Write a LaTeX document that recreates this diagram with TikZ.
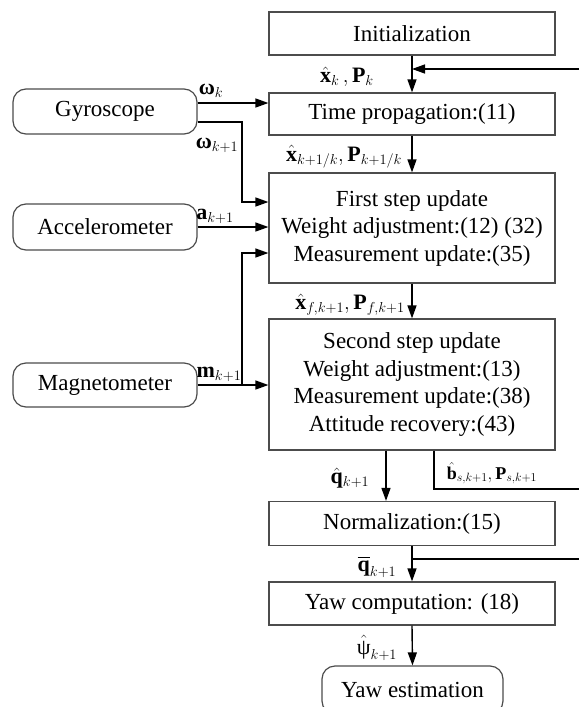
\documentclass[tikz,border=0pt]{standalone}
\usepackage{fontspec}
\setmainfont{Liberation Serif}
\usepackage{amsmath,bm}
\usetikzlibrary{arrows.meta}
\begin{document}
\begin{tikzpicture}[x=1pt,y=-1pt,
  box/.style={draw=black!70,line width=1.2pt,minimum width=286pt,inner sep=0pt,align=center,font=\fontsize{23}{27.5}\selectfont},
  sensor/.style={box,rounded corners=13pt,minimum width=184pt},
  arr/.style={line width=1.4pt,-{Triangle[length=13pt,width=9pt]}},
  conn/.style={line width=1.4pt},
  lab/.style={inner sep=0pt,font=\fontsize{22}{25}\selectfont}]
\useasboundingbox (0,0) rectangle (579,707);
\fill[white] (0,0) rectangle (579,707);
\clip (0,0) rectangle (579,707);
% main boxes
\node[box,minimum height=43pt] (init) at (412,33.5) {Initialization};
\node[box,minimum height=42pt] (tp) at (412,114) {Time propagation:(11)};
\node[box,minimum height=110pt] (fs) at (412,228) {First step update\\Weight adjustment:(12) (32)\\Measurement update:(35)};
\node[box,minimum height=131pt] (ss) at (412,384.5) {Second step update\\Weight adjustment:(13)\\Measurement update:(38)\\Attitude recovery:(43)};
\node[box,minimum height=44pt] (norm) at (412,523.5) {Normalization:(15)};
\node[box,minimum height=43pt] (yaw) at (412,603.5) {Yaw computation: (18)};
\node[sensor,minimum width=181pt,minimum height=48pt] (est) at (412.5,690) {Yaw estimation};
% sensors
\node[sensor,minimum height=45pt] (gyro) at (105,111.5) {Gyroscope};
\node[sensor,minimum height=46pt] (acc) at (105,227) {Accelerometer};
\node[sensor,minimum height=44pt] (mag) at (105,385) {Magnetometer};
% labels
\node[lab] (lxk) at (347,77) {$\hat{\mathbf{x}}_k\,,\mathbf{P}_k$};
\node[lab] (lwk) at (211,91) {$\text{\bfseries ω}_k$};
\node[lab] (lwk1) at (217,145) {$\text{\bfseries ω}_{k+1}$};
\node[lab] (lak) at (215,216) {$\mathbf{a}_{k+1}$};
\node[lab] (lmk) at (219,374) {$\mathbf{m}_{k+1}$};
\node[lab] (lxp) at (344,157) {$\hat{\mathbf{x}}_{k+1/k},\mathbf{P}_{k+1/k}$};
\node[lab] (lxf) at (350,305) {$\hat{\mathbf{x}}_{f,k+1},\mathbf{P}_{f,k+1}$};
\node[lab] (lq) at (350,478) {$\hat{\mathbf{q}}_{k+1}$};
\node[lab,font=\fontsize{18}{22}\selectfont] (lb) at (492,473) {$\hat{\mathbf{b}}_{s,k+1},\mathbf{P}_{s,k+1}$};
\node[lab] (lqb) at (377,567) {$\overline{\mathbf{q}}_{k+1}$};
\node[lab] (lpsi) at (377,648) {$\hat{\text{ψ}}_{k+1}$};
% coordinates
\coordinate (fbin) at (579,69);
\coordinate (j1) at (242,202);
\coordinate (j2) at (242,384);
\coordinate (j3) at (242,253);
\coordinate (qx) at (386,475);
\coordinate (bx) at (434,489);
\coordinate (bout) at (579,489);
\coordinate (qout) at (579,559);
% connectors
\draw[arr] (init.south) -- (tp.north);
\draw[arr] (fbin) -- (fbin -| init.south);
\draw[arr] ([yshift=8.5pt]gyro.east) -- ([yshift=8.5pt]gyro.east -| tp.west);
\draw[arr] ([yshift=-10.5pt]gyro.east) -| (j1) -- (j1 -| fs.west);
\draw[arr] (acc.east) -- (acc.east -| fs.west);
\draw[arr] (mag.east) -- (mag.east -| ss.west);
\draw[arr] (j2) -- (j3) -- (j3 -| fs.west);
\draw[arr] (tp.south) -- (fs.north);
\draw[arr] (fs.south) -- (ss.north);
\draw[arr] (qx |- ss.south) -- (qx |- norm.north);
\draw[conn] (bx |- ss.south) -- (bx) -- (bout);
\draw[arr] (norm.south) -- (yaw.north);
\draw[conn] (norm.south |- qout) -- (qout);
\draw[arr] (yaw.south) -- (est.north);
\end{tikzpicture}
\end{document}
